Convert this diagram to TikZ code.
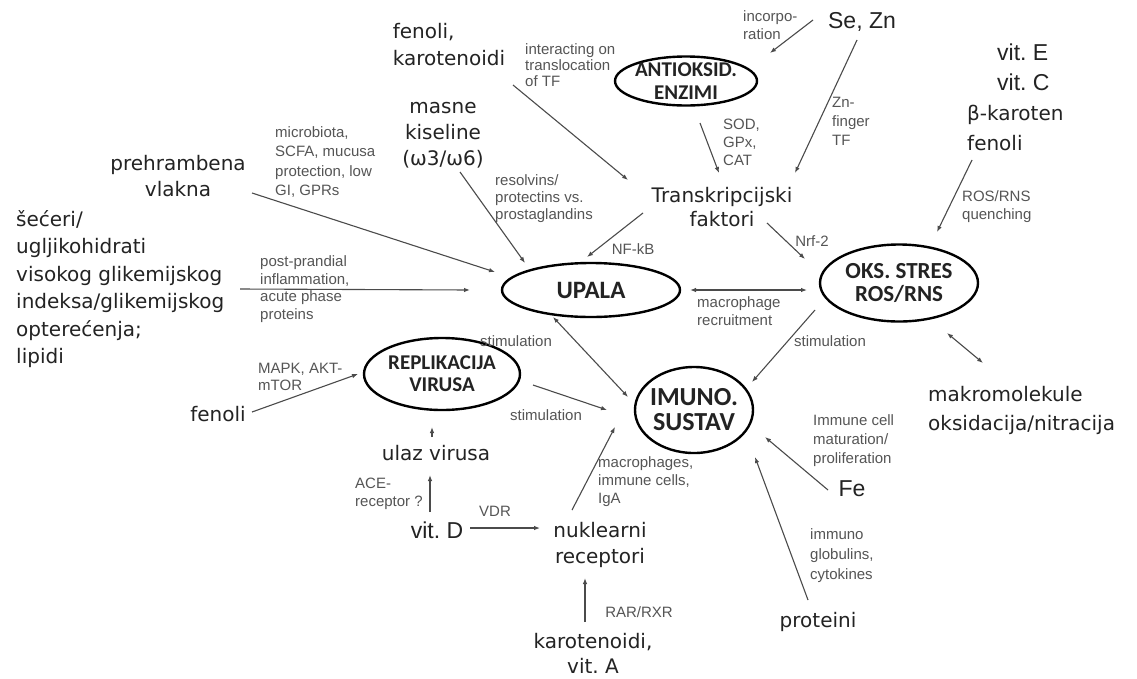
\documentclass[tikz,border=0pt]{standalone}
\usepackage{fontspec}
\setmainfont{DejaVu Sans}
\newfontfamily\arialf{Liberation Sans}
\newfontfamily\calibf{Carlito}
\usetikzlibrary{shapes.geometric,arrows.meta,calc}
\definecolor{txt}{RGB}{35,35,35}
\definecolor{labc}{RGB}{85,85,85}
\definecolor{lnc}{RGB}{75,75,75}
\frenchspacing
\begin{document}
\begin{tikzpicture}[x=1pt,y=-1pt,
  big/.style={font=\fontsize{20}{26}\selectfont, text=txt, inner sep=2pt, align=center},
  bigl/.style={big, align=left},
  arialbig/.style={font=\arialf\fontsize{23}{27}\selectfont, text=txt, inner sep=2pt},
  lab/.style={font=\arialf\fontsize{15}{18}\selectfont, text=labc, inner sep=0pt, align=left, anchor=west},
  elli/.style={draw=black, ellipse, line width=2.4pt, inner sep=0pt},
  elltxt/.style={font=\calibf\bfseries\fontsize{23}{23}\selectfont, text=txt, align=center, inner sep=0pt},
  arr/.style={draw=lnc, line width=1.1pt, -{Latex[length=6pt,width=4.5pt]}},
  darr/.style={draw=lnc, line width=1.1pt, {Latex[length=6pt,width=4.5pt]}-{Latex[length=6pt,width=4.5pt]}},
]
\fill[white] (0,0) rectangle (1137,678);
\useasboundingbox (0,0) rectangle (1137,678);

% ---------- ellipses ----------
\node[elli, minimum width=142pt, minimum height=49pt] (antiox) at (686,81) {};
\node[elltxt, font=\calibf\bfseries\fontsize{21}{23}\selectfont] (antioxT) at (antiox) {ANTIOKSID.\\ENZIMI};
\node[elli, minimum width=178pt, minimum height=54pt] (upala) at (591,290) {};
\node[elltxt, font=\calibf\bfseries\fontsize{25}{25}\selectfont] (upalaT) at (upala) {UPALA};
\node[elli, minimum width=158pt, minimum height=77pt] (oks) at (899,283) {};
\node[elltxt] (oksT) at (oks) {OKS. STRES\\ROS/RNS};
\node[elli, minimum width=156pt, minimum height=72pt] (repl) at (442,374) {};
\node[elltxt, font=\calibf\bfseries\fontsize{21}{22}\selectfont] (replT) at (repl) {REPLIKACIJA\\VIRUSA};
\node[elli, minimum width=118pt, minimum height=86pt] (imuno) at (694,410) {};
\node[elltxt, font=\calibf\bfseries\fontsize{26}{25}\selectfont] (imunoT) at (imuno) {IMUNO.\\SUSTAV};

% ---------- big text nodes ----------
\node[bigl, font=\fontsize{20}{27}\selectfont] (fk) at (449,45) {fenoli,\\karotenoidi};
\node[arialbig] (sezn) at (862,22) {Se, Zn};
\node[bigl, font=\fontsize{20}{30}\selectfont, anchor=west] (vite) at (965,97)
  {\hspace*{30pt}{\arialf\fontsize{23}{30}\selectfont vit. E}\\\hspace*{30pt}{\arialf\fontsize{23}{30}\selectfont vit. C}\\β-karoten\\fenoli};
\node[big, font=\fontsize{20}{24}\selectfont] (tf) at (722,207) {Transkripcijski\\faktori};
\node[big] (masne) at (443,135) {masne\\kiseline\\(ω3/ω6)};
\node[big] (preh) at (178,176) {prehrambena\\vlakna};
\node[bigl, font=\fontsize{20}{27.5}\selectfont, anchor=west] (secer) at (14,289)
  {šećeri/\\ugljikohidrati\\visokog glikemijskog\\indeksa/glikemijskog\\opterećenja;\\lipidi};
\node[big] (fen2) at (218,414) {fenoli};
\node[big] (ulaz) at (436,453) {ulaz virusa};
\node[arialbig] (vitd) at (437,530) {vit. D};
\node[big] (nukl) at (600,545) {nuklearni\\receptori};
\node[big, font=\fontsize{20}{25}\selectfont] (kara) at (593,653) {karotenoidi,\\vit. A};
\node[arialbig] (fe) at (852,489) {Fe};
\node[big] (prot) at (818,622) {proteini};
\node[bigl, font=\fontsize{20}{29}\selectfont, anchor=west] (makro) at (926,410) {makromolekule\\oksidacija/nitracija};

% ---------- small labels ----------
\node[lab, font=\arialf\fontsize{15}{16}\selectfont] (intl) at (525,65) {interacting on\\translocation\\of TF};
\node[lab] (incl) at (743,25) {incorpo-\\ration};
\node[lab, font=\arialf\fontsize{15}{19}\selectfont] (znl) at (832,121) {Zn-\\finger\\TF};
\node[lab] (rosl) at (962,207) {ROS/RNS\\quenching};
\node[lab] (sodl) at (723,142) {SOD,\\GPx,\\CAT};
\node[lab, anchor=center] (nfl) at (633,249) {NF-kB};
\node[lab, anchor=center] (nrfl) at (812,241) {Nrf-2};
\node[lab] (macl) at (697,311) {macrophage\\recruitment};
\node[lab, font=\arialf\fontsize{15}{17}\selectfont] (resl) at (495,199) {resolvins/\\protectins vs.\\prostaglandins};
\node[lab, font=\arialf\fontsize{15}{19.5}\selectfont] (micl) at (275,162) {microbiota,\\SCFA, mucusa\\protection, low\\GI, GPRs};
\node[lab, font=\arialf\fontsize{15}{17.5}\selectfont] (postl) at (260,289) {post-prandial\\inflammation,\\acute phase\\proteins};
\node[lab, font=\arialf\fontsize{15}{17}\selectfont] (mapkl) at (258,377) {MAPK, AKT-\\mTOR};
\node[lab] (acel) at (355,494) {ACE-\\receptor ?};
\node[lab, anchor=center] (vdrl) at (495,511) {VDR};
\node[lab, anchor=center] (rarl) at (639,612) {RAR/RXR};
\node[lab] (mac2l) at (598,482) {macrophages,\\immune cells,\\IgA};
\node[lab, anchor=center] (st1) at (516,341) {stimulation};
\node[lab, anchor=center] (st2) at (546,415) {stimulation};
\node[lab, anchor=center] (st3) at (830,341) {stimulation};
\node[lab, font=\arialf\fontsize{15}{19}\selectfont] (imml) at (813,441) {Immune cell\\maturation/\\proliferation};
\node[lab, font=\arialf\fontsize{15}{20}\selectfont] (igl) at (810,556) {immuno\\globulins,\\cytokines};

% ---------- connectors ----------
\draw[arr] ($(sezn)+(-49,-2)$) -- ($(antiox)+(84,-28)$);
\draw[arr] ($(sezn)+(-5,18)$) -- ($(tf)+(73,-34)$);
\draw[arr] ($(antiox)+(14,42)$) -- ($(tf)+(-3,-34)$);
\draw[arr] ($(fk)+(64,40)$) -- ($(tf)+(-94,-27)$);
\draw[arr] ($(vite.west)+(7,63)$) -- ($(oks)+(38,-51)$);
\draw[arr] ($(tf)+(-79,6)$) -- ($(upala)+(-4,-33)$);
\draw[arr] ($(tf)+(45,16)$) -- ($(oks)+(-94,-24)$);
\draw[arr] ($(masne)+(17,37)$) -- ($(upala)+(-66,-27)$);
\draw[arr] ($(preh)+(74,17)$) -- ($(upala)+(-96,-18)$);
\draw[arr] ($(secer.west)+(226,0)$) -- ($(upala)+(-121,0)$);
\draw[darr] ($(oks)+(-92,7)$) -- ($(upala)+(99,0)$);
\draw[darr] ($(upala)+(-38,27)$) -- ($(imuno)+(-66,-13)$);
\draw[arr] ($(repl)+(91,11)$) -- ($(imuno)+(-87,0)$);
\draw[arr] ($(oks)+(-84,27)$) -- ($(imuno)+(58,-28)$);
\draw[arr] ($(fen2)+(34,-2)$) -- ($(repl)+(-84,0)$);
\draw[arr] ($(ulaz)+(-4,-16)$) -- ($(repl)+(-10,53)$);
\draw[arr] ($(vitd)+(-7,-18)$) -- ($(ulaz)+(-6,22)$);
\draw[arr] ($(vitd)+(33,-2)$) -- ($(nukl)+(-60,-17)$);
\draw[arr] ($(kara)+(-8,-31)$) -- ($(nukl)+(-15,33)$);
\draw[arr] ($(nukl)+(-28,-35)$) -- ($(imuno)+(-79,17)$);
\draw[arr] ($(fe)+(-24,1)$) -- ($(imuno)+(71,27)$);
\draw[arr] ($(prot)+(-10,-22)$) -- ($(imuno)+(61,47)$);
\draw[darr] ($(oks)+(48,50)$) -- ($(makro.west)+(57,-47)$);
\end{tikzpicture}
\end{document}
